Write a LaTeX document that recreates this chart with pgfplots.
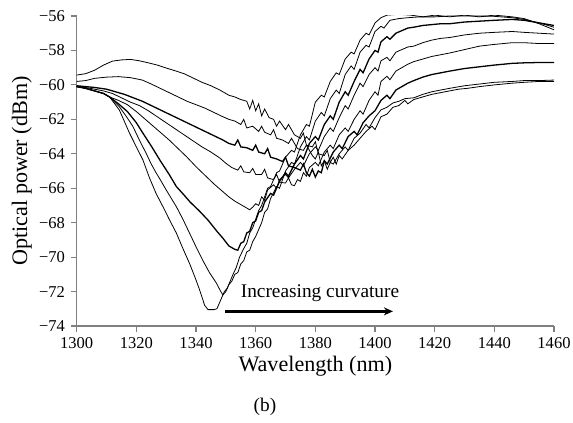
\documentclass[border=0pt]{standalone}
\usepackage{pgfplots}
\pgfplotsset{compat=1.18}
\usepackage{fontspec}
\setmainfont{Liberation Serif}
\usetikzlibrary{arrows.meta}
\begin{document}
\fontsize{8.3}{10}\selectfont
\begin{tikzpicture}
\begin{axis}[
  name=ax,
  scale only axis, width=238.65bp, height=155bp,
  xmin=1300, xmax=1460, ymin=-74, ymax=-56,
  axis lines*=left,
  axis line style={-, gray, line width=0.6pt},
  tick style={gray, line width=0.6pt},
  tick align=outside,
  major tick length=2.9bp,
  xtick={1300,1320,1340,1360,1380,1400,1420,1440,1460},
  xticklabels={1300,1320,1340,1360,1380,1400,1420,1440,1460},
  ytick={-74,-72,-70,-68,-66,-64,-62,-60,-58,-56},
  yticklabels={−74,−72,−70,−68,−66,−64,−62,−60,−58,−56},
  tick label style={font=\fontsize{8.3}{10}\selectfont},
  xlabel={Wavelength (nm)},
  ylabel={Optical power (dBm)},
  xlabel style={font=\fontsize{11.1}{13}\selectfont, at={(axis description cs:0.5,0)}, anchor=center, yshift=-20bp},
  ylabel style={font=\fontsize{11.1}{13}\selectfont, at={(axis description cs:-0.1152,0.5)}, anchor=center},
  cycle list={{black, solid, line width=0.65pt}},
  every axis plot/.append style={no marks},
]
% C1
\addplot coordinates {(1300,-59.43)(1303,-59.35)(1306,-59.15)(1309,-58.85)(1312,-58.62)(1315,-58.55)(1318,-58.52)(1321,-58.6)(1324,-58.72)(1327,-58.85)(1330,-59.02)(1333,-59.18)(1336,-59.35)(1339,-59.6)(1342,-59.85)(1345,-60.05)(1348,-60.3)(1351,-60.6)(1353,-60.7)(1355,-60.85)(1357,-60.95)(1358,-61.4)(1359,-60.9)(1360,-61.5)(1361,-61.1)(1362,-61.8)(1363,-61.4)(1364.5,-61.9)(1366,-62.0)(1367,-62.4)(1368,-62.1)(1370,-62.6)(1371,-62.3)(1373,-62.9)(1375,-63.1)(1376,-62.8)(1377,-63.5)(1379,-63.6)(1380,-63.3)(1381,-64.0)(1383,-64.1)(1384,-63.8)(1385,-64.5)(1386,-64.2)(1387,-64.6)(1388,-64.1)(1389,-64.3)(1391,-63.8)(1393,-63.5)(1395,-63.1)(1397,-62.7)(1399,-62.4)(1400,-62.6)(1402,-61.85)(1404,-61.7)(1406,-61.3)(1408,-61.2)(1410,-60.9)(1411,-61.1)(1413,-60.85)(1416,-60.7)(1419,-60.55)(1422,-60.45)(1425,-60.35)(1428,-60.25)(1431,-60.2)(1435,-60.1)(1440,-60.0)(1446,-59.9)(1450,-59.85)(1455,-59.8)(1460,-59.8)};
% C2
\addplot coordinates {(1300,-59.8)(1303,-59.75)(1306,-59.62)(1310,-59.55)(1314,-59.52)(1318,-59.58)(1322,-59.72)(1325,-59.95)(1328,-60.2)(1331,-60.45)(1334,-60.7)(1337,-60.95)(1340,-61.15)(1343,-61.35)(1346,-61.6)(1349,-61.85)(1351,-62.0)(1353,-62.1)(1355,-62.3)(1356,-62.0)(1357,-62.5)(1359,-62.4)(1361,-62.7)(1362,-62.4)(1363,-62.75)(1365,-62.9)(1366,-62.6)(1367,-63.1)(1369,-63.2)(1371,-63.4)(1372,-63.1)(1374,-63.7)(1376,-63.8)(1377,-63.5)(1379,-64.1)(1380,-64.3)(1381,-63.9)(1382,-64.7)(1383,-64.4)(1384,-64.9)(1385,-64.5)(1386,-64.6)(1388,-64.0)(1390,-63.6)(1391,-63.8)(1393,-63.1)(1395,-62.8)(1397,-62.3)(1398,-62.5)(1400,-61.9)(1402,-61.45)(1404,-61.3)(1406,-61.05)(1408,-60.95)(1410,-60.8)(1413,-60.75)(1416,-60.55)(1419,-60.4)(1422,-60.3)(1425,-60.2)(1430,-60.05)(1435,-59.95)(1440,-59.85)(1446,-59.8)(1450,-59.75)(1455,-59.75)(1460,-59.72)};
% C3
\addplot coordinates {(1300,-60.05)(1303,-60.1)(1306,-60.15)(1310,-60.25)(1313,-60.4)(1316,-60.55)(1319,-60.75)(1322,-60.95)(1325,-61.2)(1328,-61.45)(1331,-61.7)(1334,-61.95)(1337,-62.2)(1340,-62.45)(1343,-62.7)(1346,-62.95)(1349,-63.2)(1351,-63.4)(1353,-63.5)(1354,-63.2)(1355,-63.6)(1357,-63.65)(1359,-63.8)(1360,-63.5)(1361,-63.9)(1363,-64.0)(1364,-63.7)(1365,-64.2)(1367,-64.3)(1369,-64.45)(1370,-64.2)(1371,-64.7)(1373,-64.8)(1375,-64.95)(1376,-64.6)(1377,-65.1)(1378,-65.3)(1379,-64.9)(1380,-65.35)(1381,-65.0)(1382,-65.1)(1383,-64.4)(1384,-64.6)(1386,-63.9)(1388,-63.5)(1389,-63.7)(1391,-63.0)(1393,-62.7)(1394,-62.9)(1396,-62.2)(1398,-61.8)(1400,-61.5)(1402,-60.9)(1404,-60.6)(1405,-60.8)(1407,-60.3)(1409,-60.1)(1411,-59.9)(1413,-59.75)(1416,-59.55)(1419,-59.4)(1422,-59.3)(1425,-59.2)(1430,-59.05)(1435,-58.95)(1440,-58.85)(1446,-58.75)(1450,-58.72)(1455,-58.7)(1460,-58.7)};
% C4
\addplot coordinates {(1300,-60.1)(1303,-60.15)(1306,-60.25)(1309,-60.35)(1312,-60.5)(1315,-60.75)(1318,-61.0)(1321,-61.2)(1324,-61.5)(1327,-61.85)(1330,-62.2)(1333,-62.55)(1336,-62.9)(1339,-63.25)(1342,-63.6)(1345,-63.9)(1348,-64.25)(1350,-64.55)(1352,-64.8)(1354,-64.95)(1355,-64.7)(1356,-65.05)(1358,-65.1)(1359,-64.85)(1360,-65.2)(1362,-65.2)(1363,-64.9)(1364,-65.4)(1366,-65.5)(1367,-65.2)(1368,-65.65)(1370,-65.7)(1371,-65.4)(1372,-65.8)(1373,-65.85)(1374,-65.5)(1375,-65.6)(1376,-65.1)(1377,-65.3)(1378,-64.8)(1380,-64.5)(1381,-64.7)(1383,-63.9)(1385,-63.5)(1386,-63.7)(1388,-62.9)(1390,-62.5)(1391,-62.7)(1393,-62.0)(1395,-61.5)(1396,-61.7)(1398,-60.9)(1400,-60.4)(1401,-60.6)(1402,-59.8)(1404,-59.5)(1405,-59.7)(1407,-59.2)(1409,-59.0)(1411,-58.8)(1413,-58.65)(1416,-58.5)(1419,-58.35)(1422,-58.25)(1425,-58.15)(1430,-57.95)(1435,-57.75)(1440,-57.65)(1446,-57.55)(1450,-57.55)(1455,-57.6)(1460,-57.6)};
% C5
\addplot coordinates {(1300,-60.1)(1303,-60.2)(1306,-60.35)(1309,-60.5)(1311,-60.7)(1314,-60.9)(1317,-61.15)(1320,-61.55)(1322,-61.85)(1325,-62.3)(1328,-62.75)(1331,-63.2)(1334,-63.7)(1337,-64.2)(1340,-64.75)(1343,-65.25)(1346,-65.75)(1349,-66.2)(1351,-66.5)(1353,-66.75)(1355,-66.95)(1357,-67.15)(1358,-67.25)(1359,-67.1)(1360,-66.9)(1361,-67.0)(1362,-66.5)(1363,-66.7)(1364,-66.1)(1366,-65.8)(1367,-66.0)(1368,-65.5)(1370,-65.2)(1371,-65.4)(1373,-64.9)(1375,-64.5)(1376,-64.7)(1378,-64.0)(1380,-63.6)(1381,-63.8)(1383,-63.0)(1385,-62.5)(1386,-62.7)(1388,-61.9)(1390,-61.2)(1391,-61.4)(1393,-60.6)(1395,-59.9)(1396,-60.1)(1398,-59.4)(1400,-59.0)(1401,-59.2)(1402,-58.6)(1404,-58.4)(1405,-58.6)(1407,-58.1)(1409,-57.95)(1411,-57.8)(1413,-57.75)(1416,-57.55)(1419,-57.4)(1422,-57.3)(1425,-57.25)(1430,-57.1)(1435,-57.0)(1440,-56.95)(1446,-56.9)(1450,-56.95)(1455,-57.0)(1460,-57.05)};
% C6
\addplot coordinates {(1300,-60.1)(1303,-60.2)(1306,-60.35)(1309,-60.5)(1311,-60.7)(1314,-61.1)(1317,-61.55)(1320,-62.2)(1322,-62.75)(1325,-63.55)(1328,-64.4)(1331,-65.2)(1333.4,-65.9)(1336,-66.4)(1338,-66.8)(1341,-67.3)(1344,-67.85)(1347,-68.5)(1349,-68.9)(1351,-69.35)(1353,-69.55)(1354,-69.6)(1355,-69.2)(1356,-69.1)(1357,-68.6)(1358,-68.5)(1359,-68.0)(1360,-67.9)(1361,-67.4)(1362,-67.3)(1363,-66.8)(1365,-66.3)(1366,-66.4)(1368,-65.6)(1370,-65.1)(1371,-65.3)(1373,-64.6)(1375,-64.1)(1376,-64.3)(1378,-63.4)(1380,-63.0)(1381,-63.2)(1383,-62.3)(1385,-61.8)(1386,-62.0)(1388,-61.0)(1390,-60.4)(1391,-60.6)(1393,-59.8)(1395,-59.1)(1396,-59.3)(1398,-58.5)(1400,-58.0)(1401,-58.1)(1402,-57.5)(1404,-57.2)(1405,-57.35)(1407,-57.0)(1409,-56.85)(1411,-56.7)(1413,-56.65)(1416,-56.55)(1419,-56.5)(1422,-56.45)(1425,-56.45)(1430,-56.35)(1435,-56.3)(1440,-56.25)(1446,-56.2)(1450,-56.25)(1455,-56.4)(1460,-56.55)};
% C7
\addplot coordinates {(1300,-60.1)(1303,-60.2)(1306,-60.35)(1309,-60.5)(1311,-60.7)(1314.3,-61.27)(1316.5,-61.8)(1318.8,-62.4)(1321,-63.2)(1323.3,-63.98)(1325,-64.6)(1326.6,-65.1)(1328,-65.5)(1330,-66.1)(1333.4,-67.07)(1335.6,-67.8)(1337.8,-68.6)(1340,-69.4)(1342.3,-70.2)(1344.5,-70.9)(1346.8,-71.5)(1348,-71.9)(1349,-72.2)(1350,-72.0)(1351,-71.6)(1352,-71.4)(1353,-71.0)(1354,-70.9)(1355,-70.4)(1356,-70.2)(1357,-69.7)(1358,-69.6)(1359,-69.1)(1360,-68.8)(1361,-68.4)(1362,-68.0)(1363,-67.4)(1364,-67.2)(1365,-66.6)(1367,-65.9)(1368,-66.0)(1370,-65.0)(1372,-64.5)(1373,-64.6)(1375,-63.6)(1377,-63.0)(1378,-63.2)(1380,-62.1)(1382,-61.6)(1383,-61.8)(1385,-60.8)(1387,-60.3)(1388,-60.5)(1390,-59.4)(1392,-58.9)(1393,-59.1)(1395,-58.1)(1397,-57.7)(1398,-57.8)(1400,-56.9)(1402,-56.6)(1403,-56.7)(1405,-56.25)(1408,-56.15)(1411,-56.1)(1415,-56.05)(1420,-56.05)(1425,-56.0)(1430,-56.0)(1435,-56.0)(1440,-56.02)(1446,-56.1)(1450,-56.2)(1455,-56.4)(1460,-56.65)};
% C8
\addplot coordinates {(1300,-60.1)(1303,-60.2)(1306,-60.35)(1309,-60.5)(1311,-60.7)(1314.3,-61.46)(1317.7,-62.8)(1320,-63.6)(1322.2,-64.36)(1324.4,-65.4)(1326.6,-66.3)(1328.9,-67.07)(1331,-67.8)(1333.4,-68.6)(1335.6,-69.5)(1337.8,-70.36)(1339.5,-71.1)(1341.2,-71.9)(1342.9,-72.8)(1344,-73.05)(1346,-73.05)(1347,-73.0)(1348,-72.6)(1349.5,-72.0)(1350.5,-71.8)(1352.4,-71.0)(1353.5,-70.6)(1354.6,-70.0)(1356,-69.5)(1357,-69.2)(1358,-68.6)(1359,-68.3)(1361,-67.3)(1362,-67.0)(1364,-66.0)(1365,-65.9)(1367,-65.1)(1368,-65.0)(1370,-64.2)(1372,-63.8)(1373,-63.9)(1375,-62.9)(1377,-62.3)(1378,-62.4)(1380,-61.0)(1382,-60.6)(1383,-60.7)(1385,-59.8)(1387,-59.3)(1388,-59.4)(1390,-58.5)(1392,-58.1)(1393,-58.2)(1395,-57.4)(1397,-57.0)(1398,-57.1)(1400,-56.4)(1402,-56.1)(1404,-55.95)(1408,-55.9)(1412,-55.95)(1416,-56.05)(1420,-55.95)(1425,-56.05)(1430,-55.95)(1435,-56.05)(1440,-55.95)(1446,-56.05)(1450,-56.15)(1455,-56.45)(1460,-56.8)};
\node[anchor=west, inner sep=0pt, font=\fontsize{9.7}{11}\selectfont] at (axis cs:1354.9,-72.1) {Increasing curvature};
\draw[line width=1.5bp, -{Stealth[length=4.5bp,width=4bp]}] (axis cs:1349.8,-73.15) -- (axis cs:1406,-73.15);
\end{axis}
\node[font=\fontsize{9.7}{11}\selectfont] at ([shift={(94.15bp,-40.5bp)}]ax.south west) {(b)};
\pgfresetboundingbox
\path[use as bounding box] ([shift={(-38.35bp,-48.5bp)}]ax.south west) rectangle ([shift={(248.15bp,163bp)}]ax.south west);
\end{tikzpicture}
\end{document}
